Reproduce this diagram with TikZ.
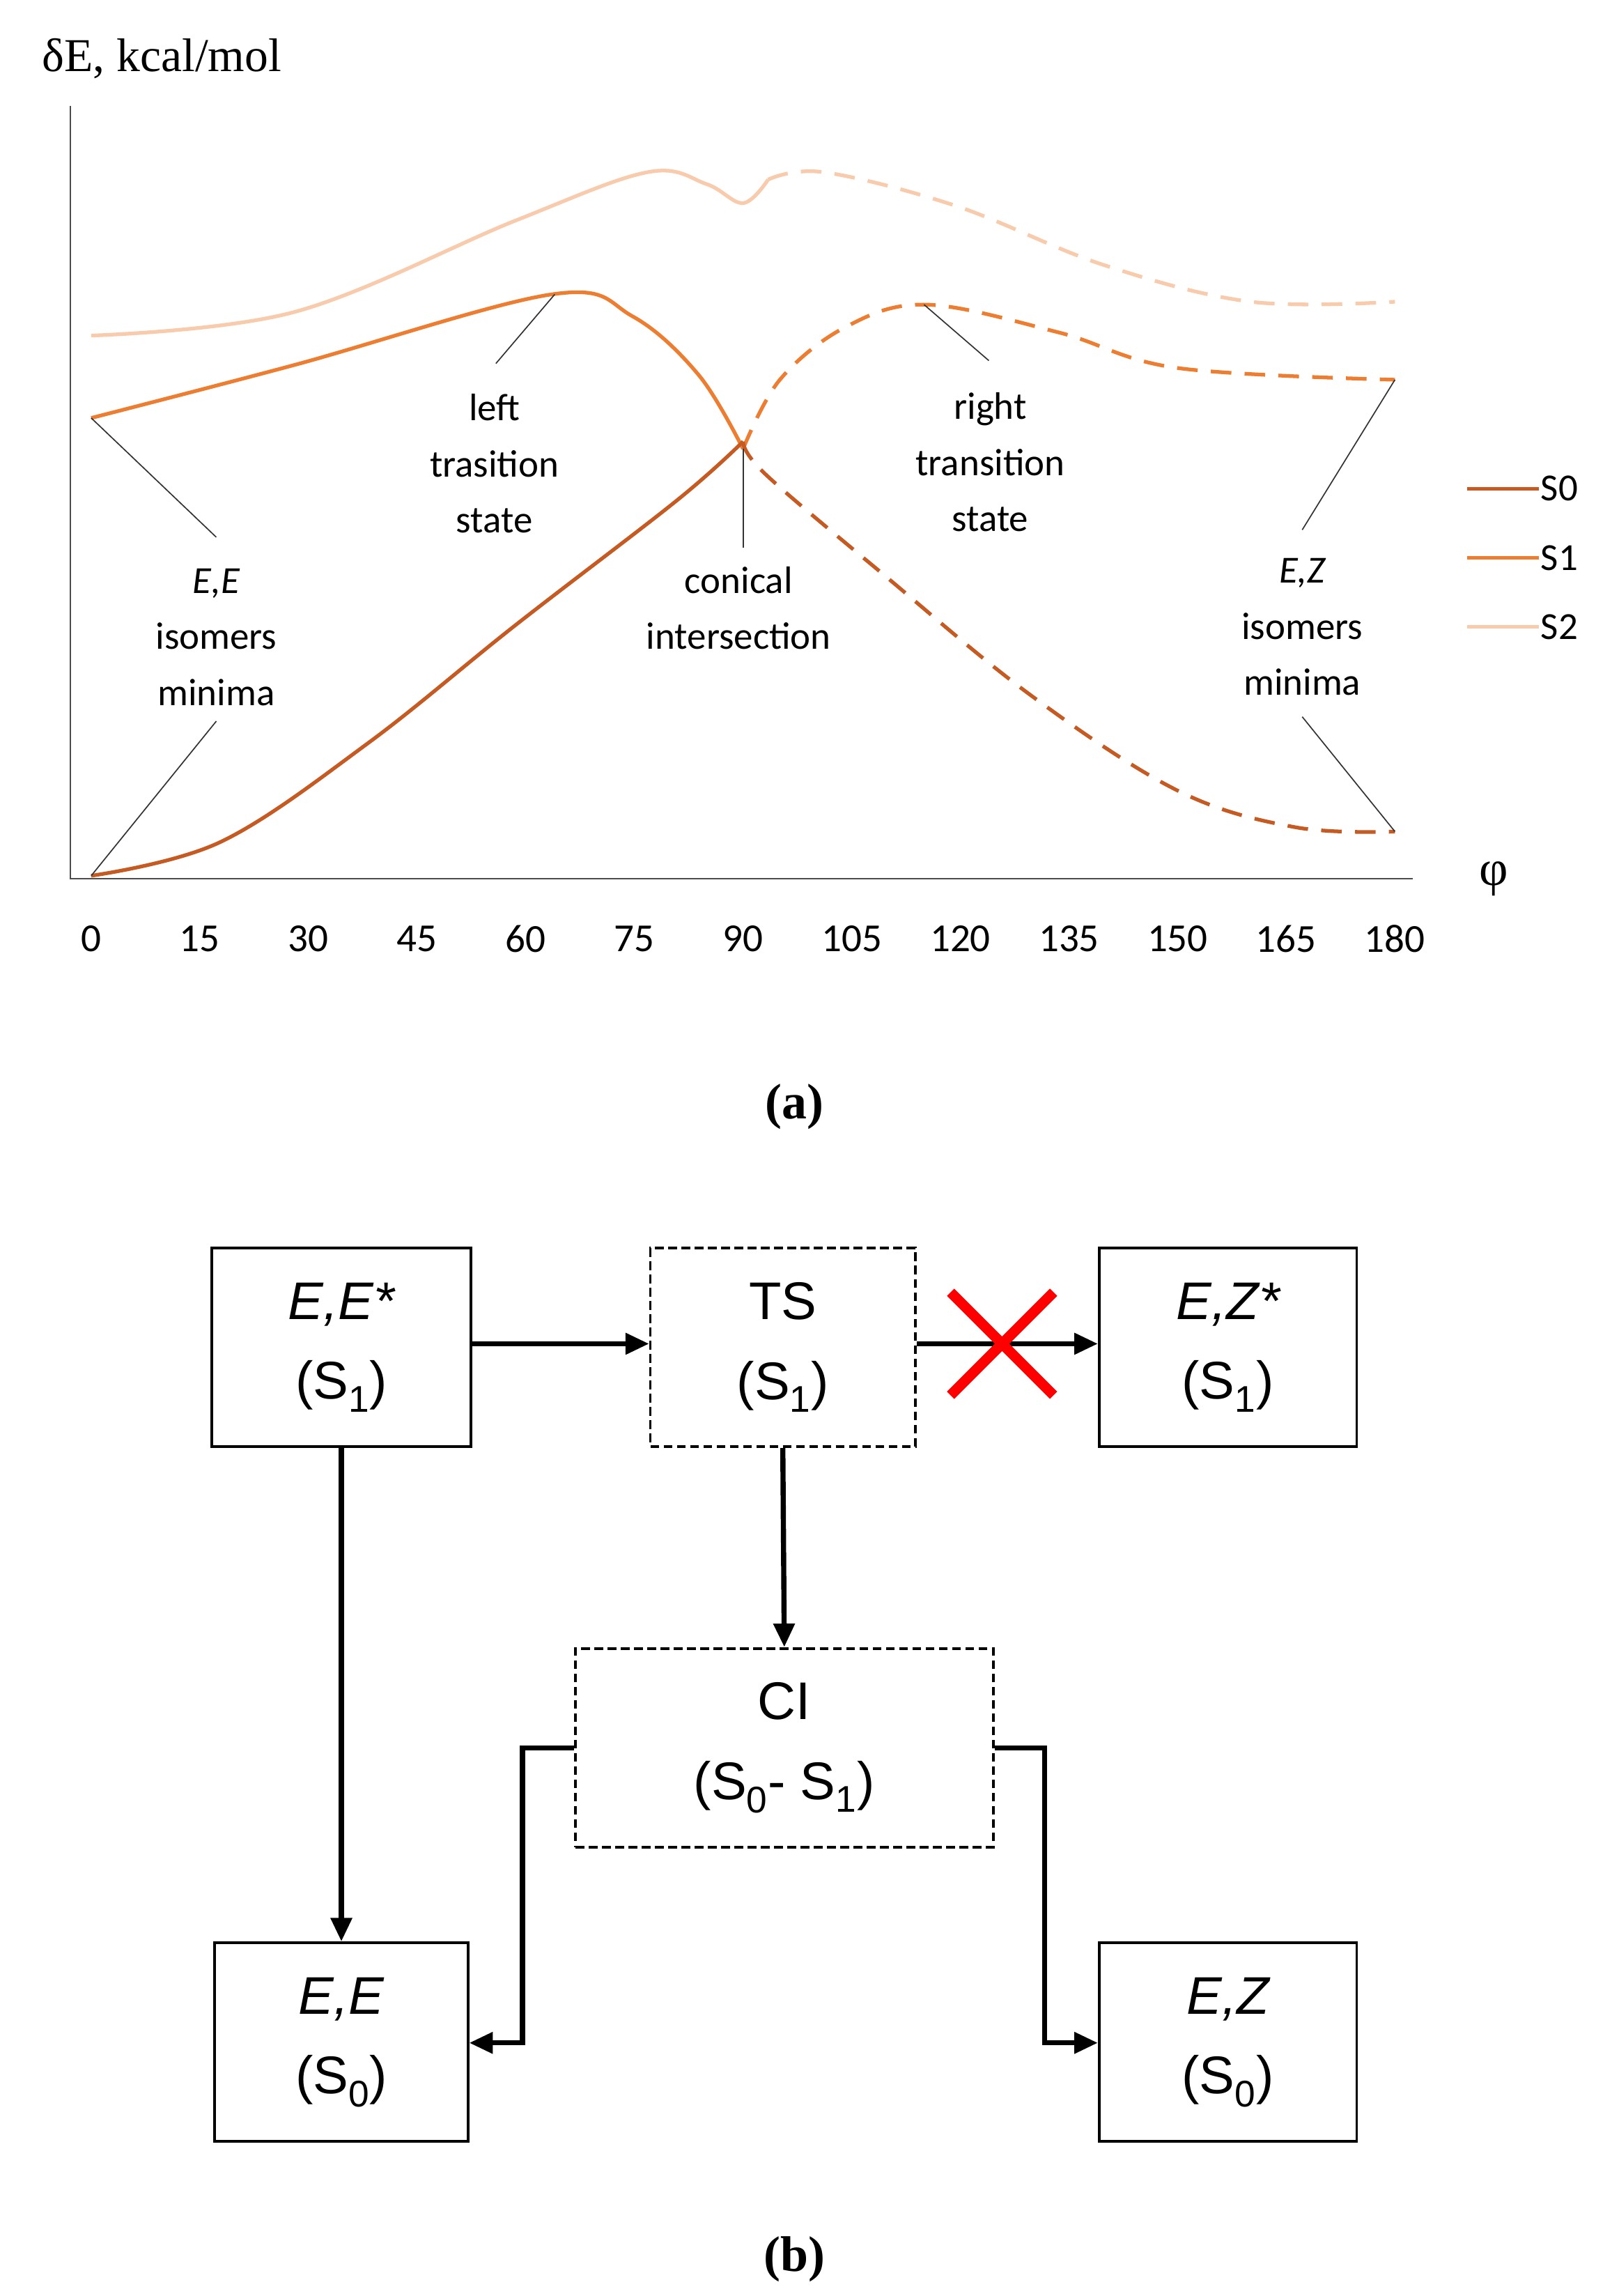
\documentclass[tikz,border=0pt]{standalone}
\usepackage{fontspec}
\setmainfont{Liberation Serif}
\newfontfamily\calfnt{Carlito}
\newfontfamily\ari{Liberation Sans}
\usetikzlibrary{arrows.meta}
\definecolor{cS0}{HTML}{C55A22}
\definecolor{cS1}{HTML}{ED7D31}
\definecolor{cS2}{HTML}{F8CBAD}
\newcommand{\Ss}[1]{S\textsubscript{#1}}
\begin{document}
\begin{tikzpicture}[x=1pt,y=-1pt,
 lab/.style={font=\calfnt\fontsize{26}{38}\selectfont,align=center},
 lead/.style={line width=0.8pt,black!80},
 crv/.style={line width=2.5pt},
 dsh/.style={line width=2.5pt,dash pattern=on 14pt off 9pt},
 box/.style={draw,line width=1.8pt,minimum width=176pt,minimum height=135pt,align=center,font=\ari\fontsize{36}{54}\selectfont},
 dbox/.style={box,dash pattern=on 6pt off 3pt},
 arr/.style={line width=3.5pt,-{Triangle[length=16pt,width=14pt]}}]
\useasboundingbox (0,0) rectangle (1100,1560);
% axes
\draw[line width=1pt,black!70] (48,72) -- (48,597) -- (960,597);
\node[font=\fontsize{32}{36}\selectfont] (dE) at (110,40) {δE, kcal/mol};
\node[font=\fontsize{34}{36}\selectfont] (phi) at (1015,597) {φ};
\foreach \v [count=\i from 0] in {0,15,30,45,60,75,90,105,120,135,150,165,180}
  \node[font=\calfnt\fontsize{27}{30}\selectfont] (t\i) at (62+73.83*\i,638) {\v};
% curves
\draw[crv,cS2] plot[smooth,tension=0.6] coordinates {(62,228) (200,212) (350,150) (440,117) (480,125) (505,138) (522,122)};
\draw[dsh,cS2] plot[smooth,tension=0.6] coordinates {(522,122) (560,117) (650,140) (750,180) (850,205) (948,205)};
\draw[crv,cS1] plot[smooth,tension=0.6] coordinates {(62,284) (200,248) (375,200) (430,215) (475,255) (505,305)};
\draw[dsh,cS1] plot[smooth,tension=0.6] coordinates {(505,305) (530,258) (575,222) (630,207) (720,226) (800,250) (948,258)};
\draw[crv,cS0] plot[smooth,tension=0.6] coordinates {(62,595) (150,572) (250,505) (350,425) (460,340) (505,300)};
\draw[dsh,cS0] plot[smooth,tension=0.6] coordinates {(505,300) (520,322) (600,390) (700,472) (800,537) (880,562) (948,565)};
% labels and leaders
\node[lab] (lts) at (336,315) {left\\trasition\\state};
\draw[lead] (337,247) -- (377,200);
\node[lab] (rts) at (673,314) {right\\transition\\state};
\draw[lead] (672,245) -- (628,207);
\node[lab] (ee) at (147,433) {\itshape E,E\\isomers\\minima};
\draw[lead] (62,284) -- (147,365);
\draw[lead] (62,595) -- (147,490);
\node[lab] (ci) at (502,413) {conical\\intersection};
\draw[lead] (505,305) -- (505,372);
\node[lab] (ez) at (885,426) {\itshape E,Z\\isomers\\minima};
\draw[lead] (948,258) -- (885,360);
\draw[lead] (948,565) -- (885,487);
% legend
\draw[line width=2.5pt,cS0] (997,332) -- (1046,332);
\draw[line width=2.5pt,cS1] (997,379) -- (1046,379);
\draw[line width=2.5pt,cS2] (997,426) -- (1046,426);
\node[lab,anchor=west,inner sep=1pt] (l0) at (1046,332) {S0};
\node[lab,anchor=west,inner sep=1pt] (l1) at (1046,379) {S1};
\node[lab,anchor=west,inner sep=1pt] (l2) at (1046,426) {S2};
\node[font=\bfseries\fontsize{34}{40}\selectfont] (a) at (540,752) {(a)};
\node[font=\bfseries\fontsize{34}{40}\selectfont] (b) at (540,1535) {(b)};
% part b
\node[box] (EEs) at (232,915.5) {\itshape E,E*\\(\Ss{1})};
\node[dbox,minimum width=180pt] (TS) at (532,915.5) {TS\\(\Ss{1})};
\node[box,minimum width=175pt] (EZs) at (834.5,915.5) {\itshape E,Z*\\(\Ss{1})};
\node[dbox,minimum width=284pt] (CI) at (533,1187.5) {CI\\(\Ss{0}- \Ss{1})};
\node[box,minimum width=172pt] (EE) at (232,1387.5) {\itshape E,E\\(\Ss{0})};
\node[box,minimum width=175pt] (EZ) at (834.5,1387.5) {\itshape E,Z\\(\Ss{0})};
\draw[arr] (EEs.east |- 0,913) -- (TS.west |- 0,913);
\draw[arr] (TS.east |- 0,913) -- (EZs.west |- 0,913);
\draw[arr] (EEs.south) -- (EE.north);
\draw[arr] (TS.south) -- (CI.north);
\draw[arr] (CI.west) -- (355,1187.5) -- (355,1388) -- (EE.east |- 0,1388);
\draw[arr] (CI.east) -- (710,1187.5) -- (710,1388) -- (EZ.west |- 0,1388);
\draw[red,line width=7pt] (646,878) -- (716,948) (646,948) -- (716,878);
\end{tikzpicture}
\end{document}
